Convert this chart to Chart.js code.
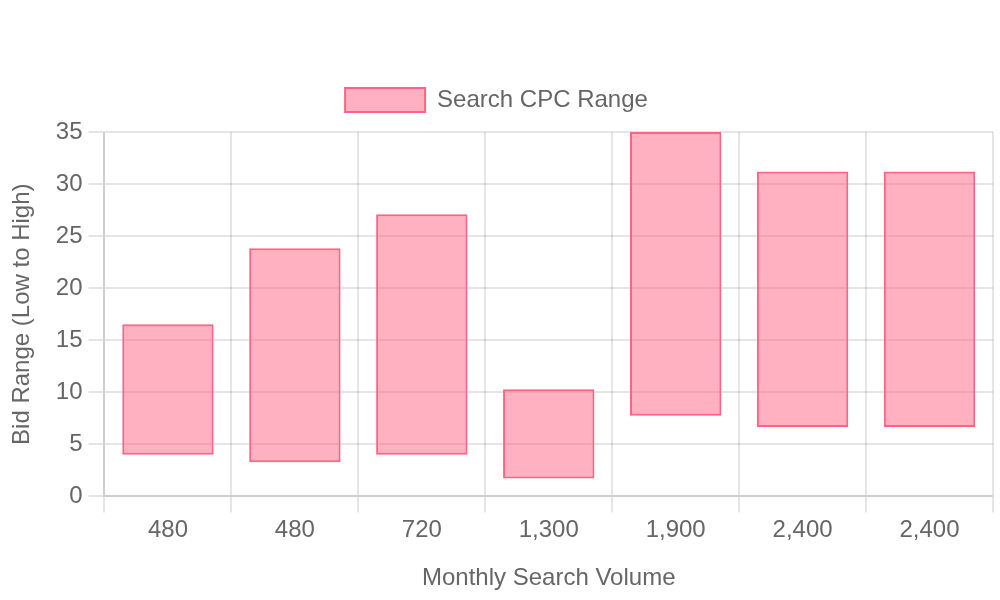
<!DOCTYPE html>
<html>
<head>
<meta charset="utf-8">
<script src="https://cdn.jsdelivr.net/npm/chart.js@4"></script>
<style>
  html, body { margin: 0; padding: 0; background: #fff; }
  #c { display: block; }
</style>
</head>
<body>
<canvas id="c" width="500" height="300"></canvas>
<script>
const categories = ['480', '480', '720', '1,300', '1,900', '2,400', '2,400'];
const lowBids  = [4.0, 3.27, 4.0, 1.71, 7.75, 6.66, 6.66];
const highBids = [16.54, 23.83, 27.1, 10.3, 35, 31.2, 31.2];
const seriesLabel = 'Search CPC Range';
const yTitle = 'Bid Range (Low to High)';
const xTitle = 'Monthly Search Volume';

const ranges = categories.map((_, i) => [lowBids[i], highBids[i]]);

const canvas = document.getElementById('c');
new Chart(canvas, {
  type: 'bar',
  data: {
    labels: categories,
    datasets: [{
      label: seriesLabel,
      data: ranges,
      backgroundColor: 'rgba(255, 99, 132, 0.5)',
      borderColor: 'rgb(255, 99, 132)',
      borderWidth: 1,
      borderSkipped: false
    }]
  },
  options: {
    responsive: false,
    animation: false,
    devicePixelRatio: 2,
    layout: { padding: { top: 34, left: 0, right: 3.5 } },
    plugins: {
      tooltip: { enabled: false }
    },
    scales: {
      x: {
        ticks: { padding: 2 },
        title: { display: true, text: xTitle, padding: { top: 7.5, bottom: 3.5 } }
      },
      y: {
        min: 0,
        max: 35,
        ticks: { stepSize: 5 },
        title: { display: true, text: yTitle, padding: { top: 4, bottom: 6.5 } }
      }
    }
  }
});
canvas.style.width = '1000px';
canvas.style.height = '600px';
</script>
</body>
</html>
